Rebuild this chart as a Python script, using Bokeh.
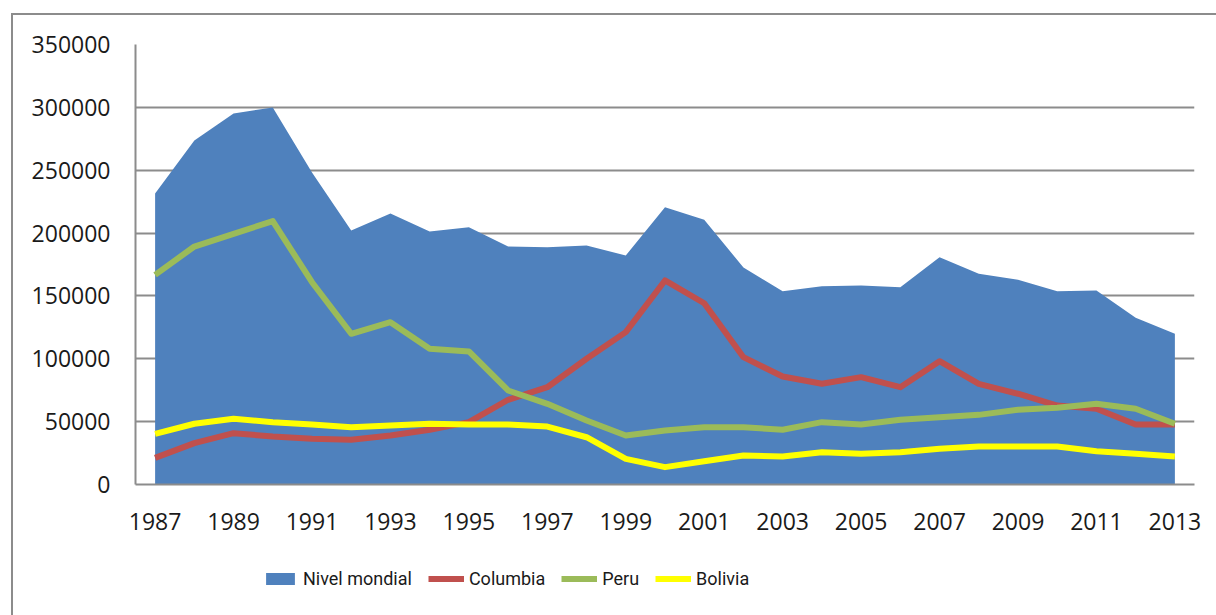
from bokeh.plotting import figure
from bokeh.layouts import column
from bokeh.models import (Range1d, FixedTicker, BasicTickFormatter, Legend, LegendItem,
                          ColumnDataSource, Div)
from bokeh.embed import file_html
from bokeh.resources import INLINE

years = list(range(1987, 2014))
nivel_mondial = [231500, 273600, 295100, 299900, 248200, 202100, 215600, 201300, 204700,
                 189300, 188800, 190100, 182200, 220600, 210600, 172600, 153800, 157700,
                 158300, 157000, 180800, 167600, 162800, 153800, 154300, 132600, 119900]
columbia = [21200, 32900, 40800, 38200, 36400, 35600, 39000, 43500, 49600,
            67400, 77400, 100000, 121200, 162300, 144200, 101300, 85900, 80100,
            85400, 77400, 98100, 80100, 72200, 62800, 60200, 47700, 47700]
peru = [166800, 189300, 199400, 209500, 160900, 119900, 129100, 107900, 105800,
        74800, 64200, 50900, 39000, 43000, 45600, 45600, 43500, 49600,
        47700, 51500, 53500, 55400, 59400, 61000, 64200, 60200, 48300]
bolivia = [40300, 48300, 52300, 49600, 47700, 45600, 46900, 48300, 47700,
           47700, 46100, 37600, 20400, 13800, 18500, 23100, 22300, 25700,
           24400, 25700, 28400, 30200, 30200, 30200, 26500, 24400, 22300]
series_names = ["Nivel mondial", "Columbia", "Peru", "Bolivia"]
x_tick_years = list(range(1987, 2014, 2))
y_ticks = [0, 50000, 100000, 150000, 200000, 250000, 300000, 350000]

C_WORLD, C_COL, C_PER, C_BOL = "#4f81bd", "#c0504d", "#9bbb59", "#ffff00"
FONT = "Open Sans"
GRAY = "#8c8c8c"
LW = 6

src = ColumnDataSource(dict(x=years, w=nivel_mondial, c=columbia, p=peru, b=bolivia,
                            z=[0] * len(years)))

p = figure(width=1216, height=550, output_backend="svg", toolbar_location=None,
           x_range=Range1d(1986.5, 2013.5), y_range=Range1d(0, 350000),
           min_border_left=135, min_border_right=22, min_border_top=44, min_border_bottom=66)
p.outline_line_color = None
p.background_fill_color = "white"
p.border_fill_color = "white"

p.varea(x="x", y1="z", y2="w", source=src, fill_color=C_WORLD)
p.line("x", "c", source=src, line_color=C_COL, line_width=LW, line_join="round")
p.line("x", "p", source=src, line_color=C_PER, line_width=LW, line_join="round")
p.line("x", "b", source=src, line_color=C_BOL, line_width=LW, line_join="round")

p.xgrid.visible = False
p.ygrid.grid_line_color = GRAY
p.ygrid.grid_line_width = 2
p.ygrid.ticker = FixedTicker(ticks=y_ticks)

p.xaxis.ticker = FixedTicker(ticks=x_tick_years)
p.yaxis.ticker = FixedTicker(ticks=y_ticks)
p.yaxis.formatter = BasicTickFormatter(use_scientific=False)
for ax in (p.xaxis[0], p.yaxis[0]):
    ax.axis_line_color = GRAY
    ax.axis_line_width = 2
    ax.major_tick_line_color = None
    ax.minor_tick_line_color = None
    ax.major_tick_out = 0
    ax.major_tick_in = 0
    ax.major_label_text_font = FONT
    ax.major_label_text_font_size = "23px"
    ax.major_label_text_color = "#1a1a1a"
p.yaxis.major_label_standoff = 25
p.xaxis.major_label_standoff = 28

# legend strip below the chart (its ranges keep the series themselves out of view)
p2 = figure(width=1216, height=64, output_backend="svg", toolbar_location=None,
            x_range=Range1d(0, 1), y_range=Range1d(0, 1), x_axis_type=None, y_axis_type=None,
            min_border=0, min_border_left=0, min_border_right=0, min_border_top=0,
            min_border_bottom=0)
p2.outline_line_color = None
p2.grid.visible = False
p2.border_fill_color = "white"
r_w = p2.varea(x="x", y1="z", y2="w", source=src, fill_color=C_WORLD)
r_c = p2.line("x", "c", source=src, line_color=C_COL, line_width=LW)
r_p = p2.line("x", "p", source=src, line_color=C_PER, line_width=LW)
r_b = p2.line("x", "b", source=src, line_color=C_BOL, line_width=LW)

legend = Legend(items=[LegendItem(label=n, renderers=[r]) for n, r in
                       zip(series_names, [r_w, r_c, r_p, r_b])],
                orientation="horizontal", location=(127, 25), glyph_width=36, glyph_height=15,
                label_standoff=5, spacing=16, label_text_font="Roboto",
                label_text_font_size="18px", label_text_color="#1a1a1a",
                border_line_color=None, background_fill_alpha=0, margin=0, padding=10)
p2.add_layout(legend, "center")

border = Div(text='<div style="position:fixed;left:11px;top:13px;width:1600px;height:1000px;'
                  'border-left:2px solid #8c8c8c;border-top:2px solid #8c8c8c;'
                  'pointer-events:none;"></div>', width=1, height=1)

layout = column(p, p2, border, spacing=0)
open("out.html", "w").write(file_html(layout, INLINE))
